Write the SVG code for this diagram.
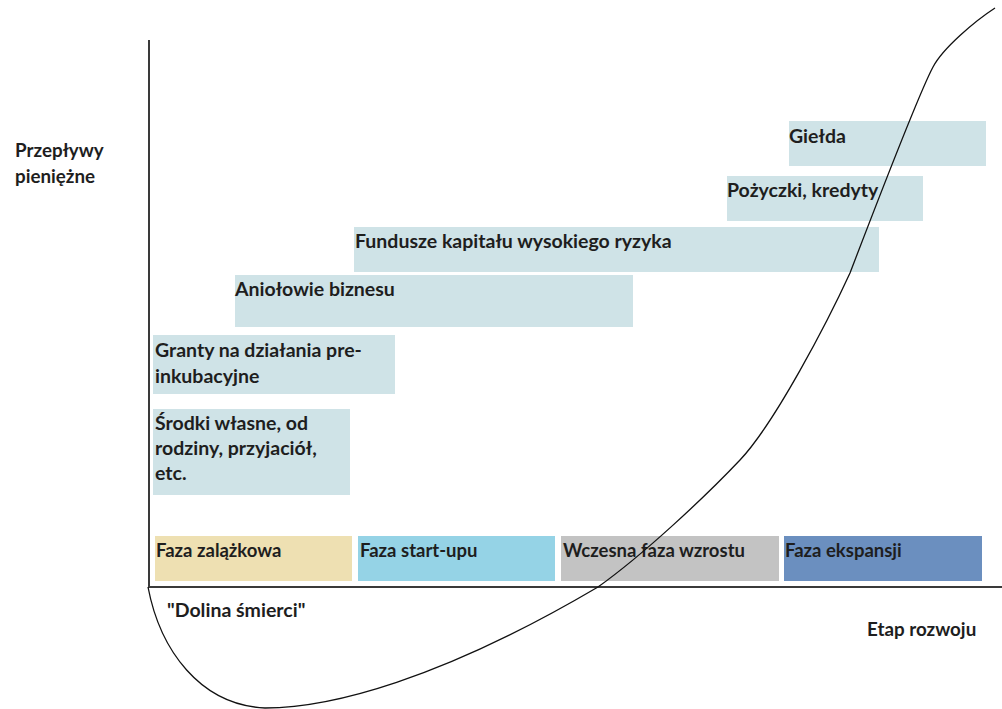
<svg xmlns="http://www.w3.org/2000/svg" width="1002" height="709" viewBox="0 0 1002 709">
<style>
text{font-family:Lato,"Open Sans","Liberation Sans",sans-serif;font-weight:700;font-size:19.5px;fill:#1e1e1e}
text.ph{font-size:18.5px}
text.ax{font-size:18.8px}
.src{fill:#cfe3e7}
.axis{stroke:#3a3a3a;stroke-width:2;fill:none}
.curve{stroke:#111;stroke-width:1.3;fill:none}
</style>
<rect width="1002" height="709" fill="#fff"/>
<g id="axes">
<line class="axis" x1="149" y1="40" x2="149" y2="587"/>
<line class="axis" x1="148" y1="587" x2="1002" y2="587"/>
</g>
<g id="label-y"><text class="ax" x="15" y="157">Przepływy</text><text class="ax" x="15" y="183">pieniężne</text></g>
<g id="label-x"><text class="ax" x="867" y="636">Etap rozwoju</text></g>
<g id="label-dolina"><text x="167" y="617">"Dolina śmierci"</text></g>
<g id="gielda"><rect class="src" x="789" y="121" width="197" height="45"/><text x="789" y="143">Giełda</text></g>
<g id="pozyczki"><rect class="src" x="727" y="176" width="196" height="45"/><text x="727" y="197">Pożyczki, kredyty</text></g>
<g id="fundusze"><rect class="src" x="354" y="227" width="525" height="45"/><text x="355" y="248">Fundusze kapitału wysokiego ryzyka</text></g>
<g id="aniolowie"><rect class="src" x="235" y="275" width="398" height="52"/><text x="235" y="296">Aniołowie biznesu</text></g>
<g id="granty"><rect class="src" x="153" y="335" width="242" height="59"/><text x="155" y="357">Granty na działania pre-</text><text x="155" y="383">inkubacyjne</text></g>
<g id="srodki"><rect class="src" x="153" y="409" width="197" height="86"/><text x="155" y="430">Środki własne, od</text><text x="155" y="455">rodziny, przyjaciół,</text><text x="155" y="480">etc.</text></g>
<g id="faza-zalazkowa"><rect x="155" y="536" width="197" height="45" fill="#eee0b2"/><text class="ph" x="156" y="557">Faza zalążkowa</text></g>
<g id="faza-startupu"><rect x="358" y="536" width="197" height="45" fill="#95d3e6"/><text class="ph" x="360" y="557">Faza start-upu</text></g>
<g id="faza-wzrostu"><rect x="561" y="536" width="218" height="45" fill="#c3c3c3"/><text class="ph" x="563" y="557">Wczesna faza wzrostu</text></g>
<g id="faza-ekspansji"><rect x="784" y="536" width="198" height="45" fill="#6b8fbf"/><text class="ph" x="785" y="557">Faza ekspansji</text></g>
<g id="connectors">
<path class="curve" d="M148,587 C160,650 200,705 265,708 C330,708 440,680 598,587 C643,555 705,497 740,460 C775,423 828,321 850,273 C878,200 918,95 933,67 C943,48 975,21 995,8"/>
</g>
</svg>
